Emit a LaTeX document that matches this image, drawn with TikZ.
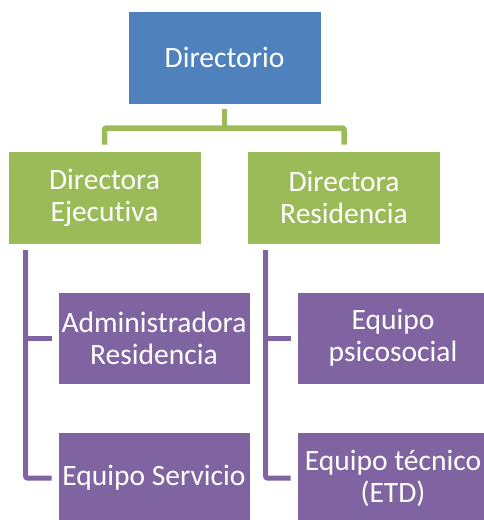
\documentclass[tikz,border=0pt]{standalone}
\usepackage{fontspec}
\setmainfont{Carlito}[Ligatures={NoCommon}]
\definecolor{dblue}{HTML}{4F81BD}
\definecolor{dgreen}{HTML}{9BBB59}
\definecolor{dpurple}{HTML}{8064A2}
\tikzset{
  box/.style={draw=white, line width=0.6pt, inner sep=0pt, text=white, align=center,
    font=\fontsize{29.5}{32}\selectfont, minimum height=93pt},
  bluebox/.style={box, fill=dblue, minimum width=193pt},
  greenbox/.style={box, fill=dgreen, minimum width=193pt},
  purplebox/.style={box, fill=dpurple, minimum width=192pt, minimum height=92pt},
  gline/.style={draw=dgreen, line width=5.5pt, rounded corners=2pt},
  pline/.style={draw=dpurple, line width=5pt, rounded corners=2pt},
}
\begin{document}
\begin{tikzpicture}[x=1pt, y=-1pt]
\path[use as bounding box, clip] (0,0) rectangle (484,520);
\node[bluebox] (dir) at (224.5,57.5) {Directorio};
\node[greenbox] (ge) at (104.5,197.5) {Directora\\Ejecutiva};
\node[greenbox] (gr) at (344,197.5) {Directora\\Residencia};
\node[purplebox] (pa) at (154,338) {Administradora\\Residencia};
\node[purplebox] (pb) at (154,478) {Equipo Servicio};
\node[purplebox] (pc) at (393,338) {Equipo\\psicosocial};
\node[purplebox] (pd) at (393,478) {Equipo técnico\\(ETD)};
% green connectors
\coordinate (gbar) at (0,128);
\draw[gline] ([yshift=-5pt]dir.south) -- (dir.south |- gbar);
\draw[gline] ([yshift=6pt]ge.north) |- (gr.north |- gbar) -- ([yshift=6pt]gr.north);
% purple connectors
\coordinate (pl) at (25.5,250);
\coordinate (pr) at (265.5,250);
\draw[pline] (pl) |- ([xshift=-6pt]pb.west);
\draw[pline] (pl |- pa.west) -- ([xshift=-6pt]pa.west);
\draw[pline] (pr) |- ([xshift=-6pt]pd.west);
\draw[pline] (pr |- pc.west) -- ([xshift=-6pt]pc.west);
\end{tikzpicture}
\end{document}
